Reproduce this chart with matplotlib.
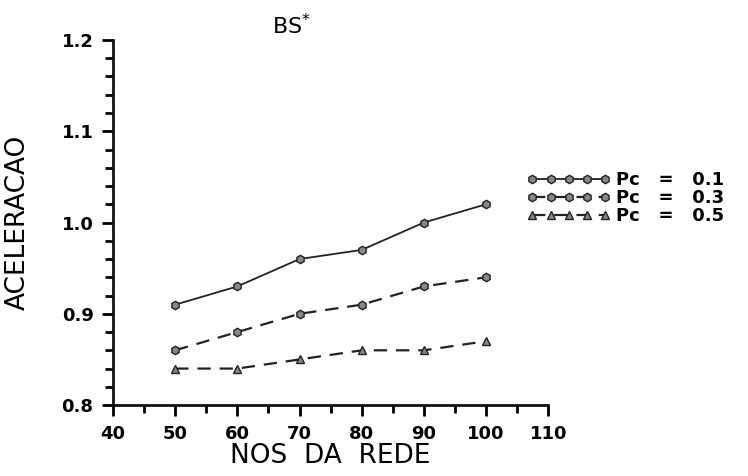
import matplotlib.pyplot as plt
from matplotlib.ticker import MultipleLocator

# node counts and speed-up per crossover probability
nodes = [50, 60, 70, 80, 90, 100]
pc_01 = [0.91, 0.93, 0.96, 0.97, 1.00, 1.02]
pc_03 = [0.86, 0.88, 0.90, 0.91, 0.93, 0.94]
pc_05 = [0.84, 0.84, 0.85, 0.86, 0.86, 0.87]
series_labels = ["Pc   =   0.1", "Pc   =   0.3", "Pc   =   0.5"]

fig = plt.figure(figsize=(7.48, 4.76), dpi=100)
ax = fig.add_axes([0.151, 0.149, 0.582, 0.767])

ax.plot(nodes, pc_01, color="#222222", lw=1.3, ls="-", marker="h", ms=6,
        mfc="#888888", mec="#222222", label=series_labels[0])
ax.plot(nodes, pc_03, color="#222222", lw=1.6, ls=(0, (6, 4)), marker="h", ms=6,
        mfc="#888888", mec="#222222", label=series_labels[1])
ax.plot(nodes, pc_05, color="#222222", lw=1.6, ls=(0, (6, 4)), marker="^", ms=6,
        mfc="#888888", mec="#222222", label=series_labels[2])

ax.set_xlim(40, 110)
ax.set_ylim(0.8, 1.2)
ax.xaxis.set_major_locator(MultipleLocator(10))
ax.xaxis.set_minor_locator(MultipleLocator(5))
ax.yaxis.set_major_locator(MultipleLocator(0.1))
ax.yaxis.set_minor_locator(MultipleLocator(0.02))
ax.yaxis.set_major_formatter(plt.FuncFormatter(lambda v, p: f"{v:.1f}"))

for s in ["top", "right"]:
    ax.spines[s].set_visible(False)
for s in ["left", "bottom"]:
    ax.spines[s].set_linewidth(2)
    ax.spines[s].set_color("#111111")

ax.tick_params(which="major", direction="out", length=8, width=2, labelsize=13, pad=6)
ax.tick_params(which="minor", direction="out", length=6, width=2)
for lab in ax.get_xticklabels() + ax.get_yticklabels():
    lab.set_fontweight("bold")

ax.set_xlabel("NOS  DA  REDE", fontsize=19, labelpad=0)
ax.set_ylabel("ACELERACAO", fontsize=19, labelpad=22)
ax.set_title(r"BS$^{*}$", fontsize=16, x=0.41, pad=4)

fig.legend(loc="center left", bbox_to_anchor=(0.695, 0.584), frameon=False,
           numpoints=5, handlelength=4.6, handletextpad=0.3, labelspacing=0.0,
           borderaxespad=0, prop={"size": 13, "weight": "semibold"})

fig.savefig("out.png", dpi=100)
